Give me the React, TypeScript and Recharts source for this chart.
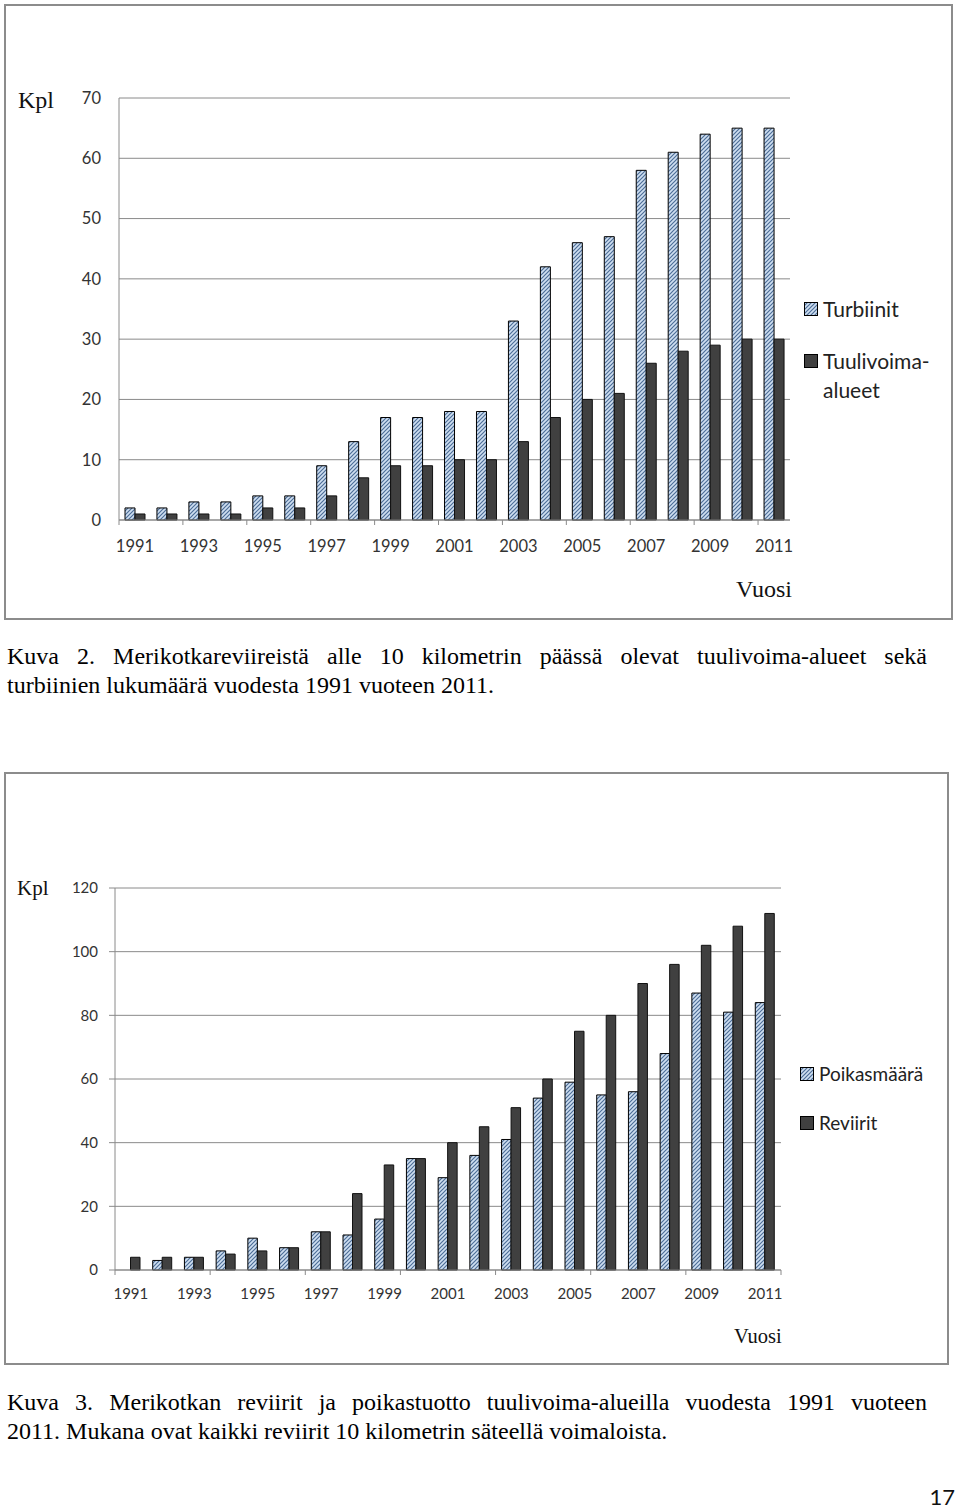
import React from "react";
import { BarChart, Bar, XAxis, YAxis, CartesianGrid, Legend } from "recharts";

// Kuva 2
const years = [
  "1991", "1992", "1993", "1994", "1995", "1996", "1997", "1998", "1999", "2000", "2001",
  "2002", "2003", "2004", "2005", "2006", "2007", "2008", "2009", "2010", "2011",
];
const turbiinit = [2, 2, 3, 3, 4, 4, 9, 13, 17, 17, 18, 18, 33, 42, 46, 47, 58, 61, 64, 65, 65];
const tuulivoimaAlueet = [1, 1, 1, 1, 2, 2, 4, 7, 9, 9, 10, 10, 13, 17, 20, 21, 26, 28, 29, 30, 30];
const ticks1 = [0, 10, 20, 30, 40, 50, 60, 70];

// Kuva 3
const poikasmaara = [null, 3, 4, 6, 10, 7, 12, 11, 16, 35, 29, 36, 41, 54, 59, 55, 56, 68, 87, 81, 84];
const reviirit = [4, 4, 4, 5, 6, 7, 12, 24, 33, 35, 40, 45, 51, 60, 75, 80, 90, 96, 102, 108, 112];
const ticks2 = [0, 20, 40, 60, 80, 100, 120];

const caption2 = [
  "Kuva 2. Merikotkareviireistä alle 10 kilometrin päässä olevat tuulivoima-alueet sekä",
  "turbiinien lukumäärä vuodesta 1991 vuoteen 2011.",
];
const caption3 = [
  "Kuva 3. Merikotkan reviirit ja poikastuotto tuulivoima-alueilla vuodesta 1991 vuoteen",
  "2011. Mukana ovat kaikki reviirit 10 kilometrin säteellä voimaloista.",
];

const data1 = years.map((year, i) => ({ year, turbiinit: turbiinit[i], alueet: tuulivoimaAlueet[i] }));
const data2 = years.map((year, i) => ({ year, poikaset: poikasmaara[i], reviirit: reviirit[i] }));

const GRID = "#8a8a8a";
const DARK = "#404040";
const TEXT = "#333";
const SANS = "Lato, 'Open Sans', sans-serif";
const SERIF = "'Liberation Serif', 'Times New Roman', serif";

const hatchDefs = (id: string) => (
  <defs>
    <pattern id={id} width={4} height={4} patternUnits="userSpaceOnUse">
      <rect width={4} height={4} fill="#cfdff1" />
      <path d="M-1,1 L1,-1 M0,4 L4,0 M3,5 L5,3" stroke="#4d6e98" strokeWidth={1.2} />
    </pattern>
  </defs>
);

// year labels every 2nd category, tick marks on category borders every `markEvery`
const yearTick = (band: number, markEvery: number, labelDy: number, fontSize: number) => (props: any) => {
  const { x, y, payload } = props;
  const i = typeof props.index === "number" ? props.index : payload.index;
  const left = x - band / 2;
  const right = x + band / 2;
  const last = i === years.length - 1 && years.length % markEvery === 0;
  return (
    <g>
      {i % markEvery === 0 && <line x1={left} x2={left} y1={y - 6} y2={y - 1} stroke={GRID} />}
      {last && <line x1={right} x2={right} y1={y - 6} y2={y - 1} stroke={GRID} />}
      {i % 2 === 0 && (
        <text x={x} y={y + labelDy} textAnchor="middle" dominantBaseline="central"
          fill={TEXT} fontSize={fontSize} fontFamily={SANS}>
          {payload.value}
        </text>
      )}
    </g>
  );
};

const Swatch = ({ hatch, id }: { hatch: boolean; id: string }) => (
  <svg width={14} height={14} style={{ flex: "none", marginRight: 5 }}>
    {hatch && hatchDefs(id)}
    <rect x={0.5} y={0.5} width={13} height={13} fill={hatch ? `url(#${id})` : DARK} stroke="#000" />
  </svg>
);

const legend1 = () => (
  <div style={{ fontFamily: SANS, fontSize: 21, lineHeight: "29px", color: "#222" }}>
    <div style={{ display: "flex", alignItems: "center" }}>
      <Swatch hatch id="lg1" />
      <span>Turbiinit</span>
    </div>
    <div style={{ display: "flex", alignItems: "flex-start", marginTop: 23 }}>
      <div style={{ height: 29, display: "flex", alignItems: "center" }}>
        <Swatch hatch={false} id="lg1b" />
      </div>
      <span>Tuulivoima-<br />alueet</span>
    </div>
  </div>
);

const legend2 = () => (
  <div style={{ fontFamily: SANS, fontSize: 19, lineHeight: "26px", color: "#222" }}>
    <div style={{ display: "flex", alignItems: "center" }}>
      <Swatch hatch id="lg2" />
      <span>Poikasmäärä</span>
    </div>
    <div style={{ display: "flex", alignItems: "center", marginTop: 23 }}>
      <Swatch hatch={false} id="lg2b" />
      <span>Reviirit</span>
    </div>
  </div>
);

const boxStyle = (left: number, top: number, width: number, height: number): React.CSSProperties => ({
  position: "absolute", left, top, width, height,
  border: "2px solid #8c8c8c", boxSizing: "border-box", background: "#fff",
});

const serifLabel = (left: number, top: number, size: number, text: string) => (
  <div style={{ position: "absolute", left, top, fontFamily: SERIF, fontSize: size, lineHeight: `${size}px`, color: "#111" }}>
    {text}
  </div>
);

const Caption = ({ top, lines }: { top: number; lines: string[] }) => (
  <div style={{ position: "absolute", left: 7, top, width: 920, fontFamily: SERIF, fontSize: 24, lineHeight: "29px", color: "#000" }}>
    <div style={{ textAlign: "justify", textAlignLast: "justify" }}>{lines[0]}</div>
    <div>{lines[1]}</div>
  </div>
);

export default function App() {
  return (
    <div style={{ position: "relative", width: 960, height: 1509, overflow: "hidden", background: "#fff" }}>
      <style>{"body{margin:0}"}</style>

      <div style={boxStyle(4, 4, 949, 616)}>
        <BarChart width={945} height={612} data={data1} barGap={0}
          margin={{ top: 92, right: 161, bottom: 58, left: 63 }}>
          {hatchDefs("hatch1")}
          <CartesianGrid vertical={false} stroke={GRID} />
          <XAxis dataKey="year" interval={0} height={40} tickSize={6} tickMargin={0} tickLine={false}
            axisLine={{ stroke: GRID }} tick={yearTick(671 / years.length, 2, 20, 16.5)} />
          <YAxis width={50} domain={[0, 70]} ticks={ticks1} tickLine={false} tickSize={6} tickMargin={12}
            axisLine={{ stroke: GRID }} tick={{ fill: TEXT, fontSize: 16.5, fontFamily: SANS }} />
          <YAxis yAxisId="r" orientation="right" width={0} domain={[0, 70]} tick={false} tickLine={false}
            axisLine={{ stroke: GRID }} />
          <Legend layout="vertical" align="center" verticalAlign="middle" content={legend1}
            wrapperStyle={{ left: 798, top: 288, width: 140 }} />
          <Bar dataKey="turbiinit" fill="url(#hatch1)" stroke="#000" strokeWidth={1} barSize={10} isAnimationActive={false} />
          <Bar dataKey="alueet" fill={DARK} stroke="#111" strokeWidth={1} barSize={10} isAnimationActive={false} />
        </BarChart>
      </div>
      {serifLabel(18, 88, 24, "Kpl")}
      {serifLabel(736, 577, 24, "Vuosi")}

      <Caption top={642} lines={caption2} />

      <div style={boxStyle(4, 772, 945, 593)}>
        <BarChart width={941} height={589} data={data2} barGap={0}
          margin={{ top: 114, right: 166, bottom: 53, left: 59 }}>
          {hatchDefs("hatch2")}
          <CartesianGrid vertical={false} stroke={GRID} />
          <XAxis dataKey="year" interval={0} height={40} tickSize={6} tickMargin={0} tickLine={false}
            axisLine={{ stroke: GRID }} tick={yearTick(666 / years.length, 3, 17, 15)} />
          <YAxis width={50} domain={[0, 120]} ticks={ticks2} tickLine={{ stroke: GRID }} tickSize={6} tickMargin={11}
            axisLine={{ stroke: GRID }} tick={{ fill: TEXT, fontSize: 15, fontFamily: SANS }} />
          <YAxis yAxisId="r" orientation="right" width={0} domain={[0, 120]} tick={false} tickLine={false}
            axisLine={{ stroke: GRID }} />
          <Legend layout="vertical" align="center" verticalAlign="middle" content={legend2}
            wrapperStyle={{ left: 794, top: 287, width: 140 }} />
          <Bar dataKey="poikaset" fill="url(#hatch2)" stroke="#000" strokeWidth={1} barSize={9.5} isAnimationActive={false} />
          <Bar dataKey="reviirit" fill={DARK} stroke="#111" strokeWidth={1} barSize={9.5} isAnimationActive={false} />
        </BarChart>
      </div>
      {serifLabel(17, 878, 21, "Kpl")}
      {serifLabel(734, 1326, 20.5, "Vuosi")}

      <Caption top={1388} lines={caption3} />

      <div style={{ position: "absolute", right: 5, top: 1486, fontFamily: SANS, fontSize: 22, lineHeight: "22px", color: "#111" }}>
        17
      </div>
    </div>
  );
}
